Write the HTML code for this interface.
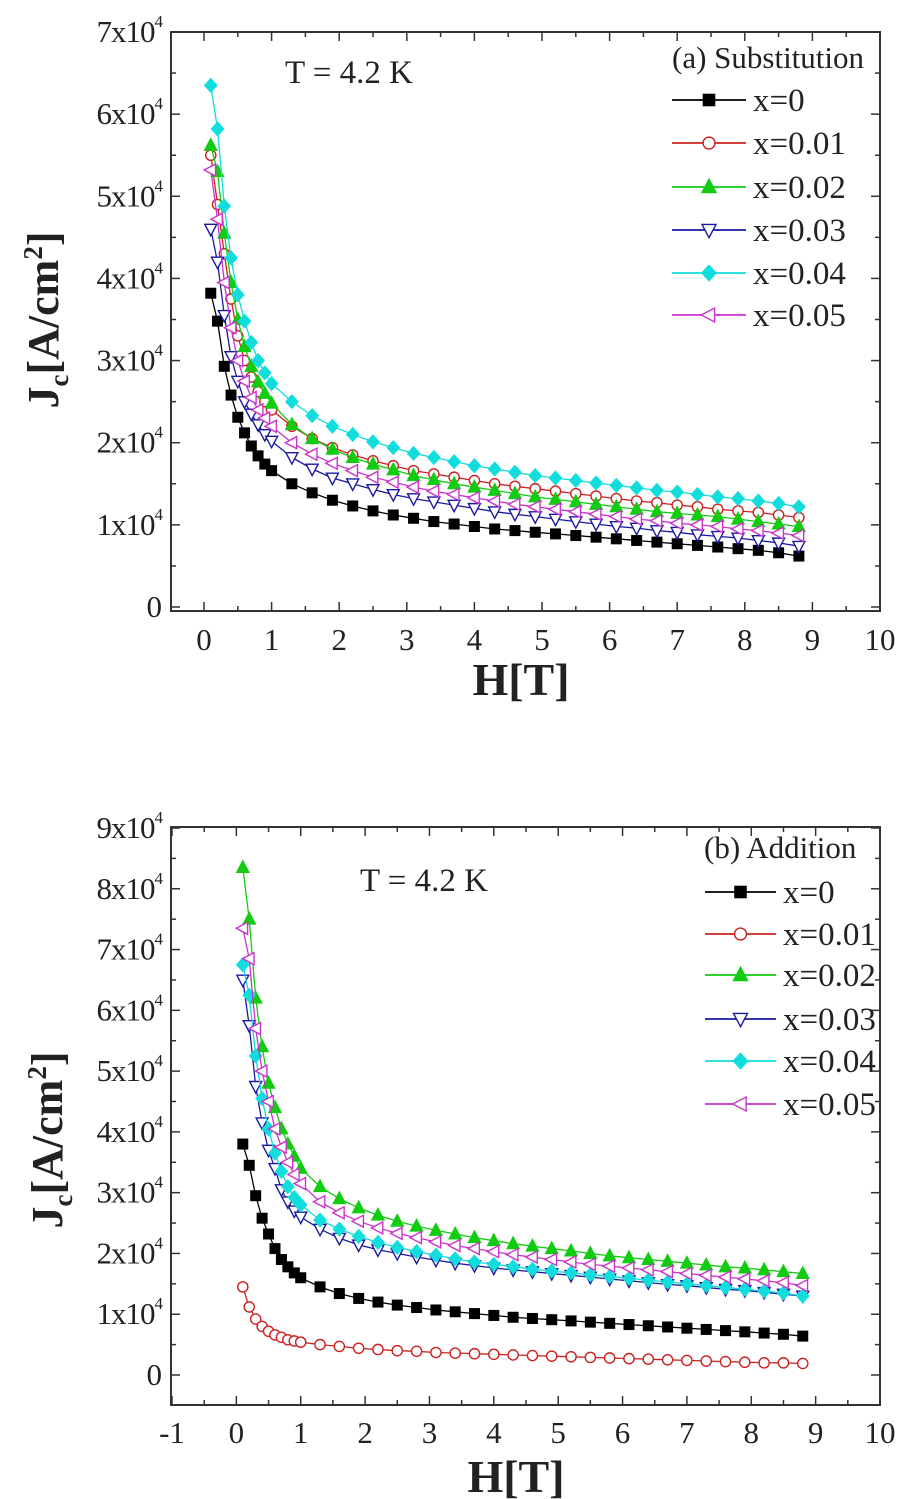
<!DOCTYPE html>
<html><head><meta charset="utf-8"><style>
html,body{margin:0;padding:0;background:#fff;}
svg{display:block;font-family:"Liberation Serif",serif;}
</style></head><body>
<svg id="fig" width="908" height="1499" viewBox="0 0 908 1499"></svg>
<script>
const H = [0.1,0.2,0.3,0.4,0.5,0.6,0.7,0.8,0.9,1.0,1.3,1.6,1.9,2.2,2.5,2.8,3.1,3.4,3.7,4.0,4.3,4.6,4.9,5.2,5.5,5.8,6.1,6.4,6.7,7.0,7.3,7.6,7.9,8.2,8.5,8.8];
const seriesLabels = ["x=0","x=0.01","x=0.02","x=0.03","x=0.04","x=0.05"];
// panel (a) substitution, Jc in units of 1e4 A/cm2
const subX0 = [3.82,3.48,2.93,2.58,2.31,2.12,1.96,1.84,1.74,1.66,1.50,1.39,1.30,1.23,1.17,1.12,1.08,1.04,1.01,0.98,0.95,0.93,0.91,0.89,0.87,0.85,0.83,0.81,0.79,0.77,0.75,0.73,0.71,0.69,0.66,0.62];
const subX001 = [5.5,4.9,4.3,3.75,3.3,3.0,2.8,2.62,2.5,2.4,2.2,2.05,1.94,1.85,1.78,1.72,1.66,1.62,1.58,1.54,1.5,1.47,1.44,1.41,1.38,1.35,1.32,1.29,1.27,1.24,1.22,1.19,1.17,1.15,1.12,1.09];
const subX002 = [5.62,5.3,4.55,3.95,3.5,3.17,2.93,2.74,2.6,2.48,2.22,2.05,1.92,1.82,1.74,1.67,1.6,1.55,1.5,1.46,1.42,1.38,1.34,1.31,1.28,1.25,1.22,1.19,1.16,1.14,1.12,1.1,1.07,1.04,1.01,0.98];
const subX003 = [4.6,4.2,3.55,3.05,2.75,2.5,2.35,2.22,2.1,2.02,1.82,1.68,1.57,1.5,1.43,1.37,1.32,1.28,1.24,1.2,1.16,1.13,1.1,1.07,1.04,1.01,0.98,0.96,0.93,0.91,0.88,0.86,0.84,0.81,0.78,0.74];
const subX004 = [6.35,5.82,4.88,4.25,3.8,3.48,3.22,3.0,2.85,2.72,2.5,2.33,2.2,2.1,2.01,1.94,1.87,1.82,1.77,1.72,1.68,1.64,1.6,1.57,1.54,1.51,1.48,1.45,1.42,1.4,1.37,1.34,1.32,1.29,1.26,1.22];
const subX005 = [5.32,4.72,3.95,3.4,3.0,2.75,2.55,2.4,2.3,2.2,2.0,1.86,1.75,1.66,1.58,1.52,1.46,1.41,1.37,1.33,1.29,1.25,1.22,1.19,1.16,1.13,1.1,1.07,1.05,1.02,1.0,0.98,0.95,0.93,0.9,0.87];
// panel (b) addition
const addX0 = [3.8,3.45,2.95,2.58,2.32,2.08,1.9,1.78,1.68,1.6,1.45,1.34,1.26,1.2,1.15,1.11,1.07,1.04,1.01,0.98,0.95,0.93,0.91,0.89,0.87,0.85,0.83,0.81,0.79,0.77,0.75,0.73,0.71,0.69,0.67,0.64];
const addX001 = [1.45,1.12,0.92,0.8,0.72,0.66,0.62,0.58,0.56,0.54,0.5,0.47,0.44,0.42,0.4,0.39,0.37,0.36,0.35,0.34,0.33,0.32,0.31,0.3,0.29,0.28,0.27,0.26,0.25,0.24,0.23,0.22,0.21,0.2,0.2,0.19];
const addX002 = [8.35,7.5,6.2,5.4,4.8,4.4,4.05,3.8,3.6,3.4,3.1,2.9,2.75,2.63,2.53,2.45,2.38,2.32,2.26,2.21,2.16,2.12,2.08,2.04,2.0,1.96,1.93,1.9,1.87,1.84,1.81,1.78,1.76,1.73,1.7,1.67];
const addX003 = [6.5,5.75,4.75,4.15,3.7,3.4,3.05,2.85,2.7,2.6,2.4,2.25,2.14,2.06,2.0,1.94,1.89,1.84,1.8,1.76,1.73,1.7,1.67,1.64,1.61,1.58,1.55,1.52,1.49,1.47,1.44,1.41,1.39,1.36,1.33,1.3];
const addX004 = [6.75,6.25,5.25,4.55,4.05,3.65,3.35,3.1,2.92,2.8,2.55,2.4,2.28,2.18,2.1,2.03,1.97,1.91,1.86,1.82,1.78,1.74,1.71,1.68,1.65,1.62,1.59,1.56,1.53,1.5,1.47,1.44,1.41,1.38,1.35,1.3];
const addX005 = [7.35,6.85,5.7,5.0,4.5,4.05,3.75,3.5,3.3,3.15,2.85,2.67,2.53,2.42,2.33,2.26,2.19,2.13,2.08,2.03,1.98,1.94,1.9,1.86,1.82,1.79,1.76,1.73,1.7,1.67,1.64,1.61,1.58,1.55,1.52,1.47];
const xTicksA = [0,1,2,3,4,5,6,7,8,9,10];
const xTicksB = [-1,0,1,2,3,4,5,6,7,8,9,10];
const yTicksA = [0,1,2,3,4,5,6,7];
const yTicksB = [0,1,2,3,4,5,6,7,8,9];

const NS="http://www.w3.org/2000/svg";
const svg=document.getElementById('fig');
const colors=["#000000","#cc2222","#11cc11","#1a1aa0","#11dddd","#cc33cc"];
const shapes=["square","circle","tri-up","tri-down","diamond","tri-left"];
const fills=[true,false,true,false,true,false];
function mk(tag,attrs,parent){const e=document.createElementNS(NS,tag);for(const k in attrs)e.setAttribute(k,attrs[k]);(parent||svg).appendChild(e);return e;}
function marker(g,shape,cx,cy,col,filled,s){
  let e;const f=filled?col:"#fff";
  if(shape==="square")e=mk('rect',{x:cx-s*0.8,y:cy-s*0.8,width:s*1.6,height:s*1.6,fill:f,stroke:col,'stroke-width':1.4},g);
  else if(shape==="circle")e=mk('circle',{cx:cx,cy:cy,r:s*0.85,fill:f,stroke:col,'stroke-width':1.4},g);
  else if(shape==="tri-up")e=mk('polygon',{points:`${cx},${cy-s*1.1} ${cx-s},${cy+s*0.8} ${cx+s},${cy+s*0.8}`,fill:f,stroke:col,'stroke-width':1.4},g);
  else if(shape==="tri-down")e=mk('polygon',{points:`${cx},${cy+s*1.1} ${cx-s},${cy-s*0.8} ${cx+s},${cy-s*0.8}`,fill:f,stroke:col,'stroke-width':1.4},g);
  else if(shape==="diamond")e=mk('polygon',{points:`${cx},${cy-s*1.1} ${cx+s},${cy} ${cx},${cy+s*1.1} ${cx-s},${cy}`,fill:f,stroke:col,'stroke-width':1.4},g);
  else e=mk('polygon',{points:`${cx-s*1.1},${cy} ${cx+s*0.8},${cy-s} ${cx+s*0.8},${cy+s}`,fill:f,stroke:col,'stroke-width':1.4},g);
  
  
  return e;
}
function text(str,x,y,size,opts,parent){
  const t=mk('text',Object.assign({x:x,y:y,'font-size':size,fill:'#222'},opts||{}),parent);
  t.textContent=str;return t;
}
function panel(cfg){
  const g=mk('g',{});
  
  
  const sx=v=>cfg.x0+(v-cfg.xmin)*(cfg.x1-cfg.x0)/(cfg.xmax-cfg.xmin);
  const sy=v=>cfg.y0-(v-cfg.ymin)*(cfg.y0-cfg.y1)/(cfg.ymax-cfg.ymin);
  const L=cfg.boxL,R=cfg.boxR,T=cfg.boxT,B=cfg.boxB;
  const box=mk('rect',{x:L,y:T,width:R-L,height:B-T,fill:'none',stroke:'#333','stroke-width':2},g);
  
  
  for(let v=cfg.xTicks[0];v<=cfg.xmax+0.01;v+=0.5){
    const X=sx(v);if(X<L||X>R)continue;const len=(Math.abs(v-Math.round(v))<0.01)?9:5;
    mk('line',{x1:X,y1:B,x2:X,y2:B-len,stroke:'#333','stroke-width':1.5},g);
    mk('line',{x1:X,y1:T,x2:X,y2:T+len,stroke:'#333','stroke-width':1.5},g);
  }
  for(let v=cfg.ymin-0.5;v<=cfg.ymax+0.01;v+=0.5){
    const Y=sy(v);if(Y<T||Y>B)continue;const len=(Math.abs(v-Math.round(v))<0.01)?9:5;
    mk('line',{x1:L,y1:Y,x2:L+len,y2:Y,stroke:'#333','stroke-width':1.5},g);
    mk('line',{x1:R,y1:Y,x2:R-len,y2:Y,stroke:'#333','stroke-width':1.5},g);
  }
  cfg.xTicks.forEach(v=>{const t=text(String(v),sx(v),cfg.xLabY,31,{'text-anchor':'middle'},g);
    });
  cfg.yTicks.forEach(v=>{
    const Y=sy(v)+10;let t;
    if(v===0){t=text('0',cfg.yLabX,Y,31,{'text-anchor':'end'},g);}
    else{t=mk('text',{x:cfg.yLabX,y:Y,'font-size':31,'text-anchor':'end',fill:'#222','letter-spacing':'-1'},g);
      const a=document.createElementNS(NS,'tspan');a.textContent=v+'x10';t.appendChild(a);
      const b=document.createElementNS(NS,'tspan');b.textContent='4';b.setAttribute('font-size','17');b.setAttribute('dy','-15');t.appendChild(b);}
    
  });
  const xt=text('H[T]',cfg.xTitleX,cfg.xTitleY,46,{'text-anchor':'middle','font-weight':'bold'},g);
  
  const yt=mk('text',{x:0,y:0,'font-size':44,'font-weight':'bold','text-anchor':'middle',fill:'#222',transform:`translate(${cfg.yTitleX},${cfg.yTitleY}) rotate(-90)`},g);
  const j=document.createElementNS(NS,'tspan');j.textContent='J';yt.appendChild(j);
  const c=document.createElementNS(NS,'tspan');c.textContent='c';c.setAttribute('font-size','27');c.setAttribute('dy','10');yt.appendChild(c);
  const u=document.createElementNS(NS,'tspan');u.textContent='[A/cm';u.setAttribute('dy','-10');yt.appendChild(u);
  const s2=document.createElementNS(NS,'tspan');s2.textContent='2';s2.setAttribute('font-size','27');s2.setAttribute('dy','-16');yt.appendChild(s2);
  const cl=document.createElementNS(NS,'tspan');cl.textContent=']';cl.setAttribute('dy','16');yt.appendChild(cl);
  
  const tt=text('T = 4.2 K',cfg.tX,cfg.tY,33,{},g);
  
  cfg.series.forEach((vals,i)=>{
    const sg=mk('g',{},g);
    
    
    const pts=H.map((h,k)=>sx(h).toFixed(1)+','+sy(vals[k]).toFixed(1)).join(' ');
    const pl=mk('polyline',{points:pts,fill:'none',stroke:colors[i],'stroke-width':1.3},sg);
    
    
    H.forEach((h,k)=>marker(sg,shapes[i],sx(h),sy(vals[k]),colors[i],fills[i],6));
  });
  const lg=mk('g',{},g);
  
  
  const lt=text(cfg.legTitle,cfg.legTX,cfg.legTY,31,{},lg);
  
  seriesLabels.forEach((lab,i)=>{
    const Y=cfg.legY[i];
    const eg=mk('g',{},lg);
    
    
    mk('line',{x1:cfg.legL,y1:Y,x2:cfg.legR,y2:Y,stroke:colors[i],'stroke-width':1.8},eg);
    marker(eg,shapes[i],(cfg.legL+cfg.legR)/2,Y,colors[i],fills[i],7);
    text(lab,cfg.legR+7,Y+11,33,{},eg);
  });
}
panel({name:'panel-a-substitution',xmin:0,xmax:10,x0:204,x1:880,ymin:0,ymax:7,y0:607,y1:32,
  boxL:171,boxR:880,boxT:32,boxB:611,xTicks:xTicksA,yTicks:yTicksA,xLabY:650,yLabX:162,
  xTitleX:521,xTitleY:695,yTitleX:58,yTitleY:320,tX:285,tY:83,
  series:[subX0,subX001,subX002,subX003,subX004,subX005],
  legTitle:'(a) Substitution',legTX:672,legTY:68,legL:672,legR:746,legY:[100,143,187,230,273,315]});
panel({name:'panel-b-addition',xmin:-1,xmax:10,x0:172,x1:880,ymin:0,ymax:9,y0:1375,y1:828,
  boxL:171,boxR:880,boxT:827,boxB:1405,xTicks:xTicksB,yTicks:yTicksB,xLabY:1443,yLabX:162,
  xTitleX:516,xTitleY:1492,yTitleX:62,yTitleY:1140,tX:360,tY:891,
  series:[addX0,addX001,addX002,addX003,addX004,addX005],
  legTitle:'(b) Addition',legTX:704,legTY:858,legL:705,legR:776,legY:[892,934,975,1019,1061,1104]});
</script>
</body></html>
